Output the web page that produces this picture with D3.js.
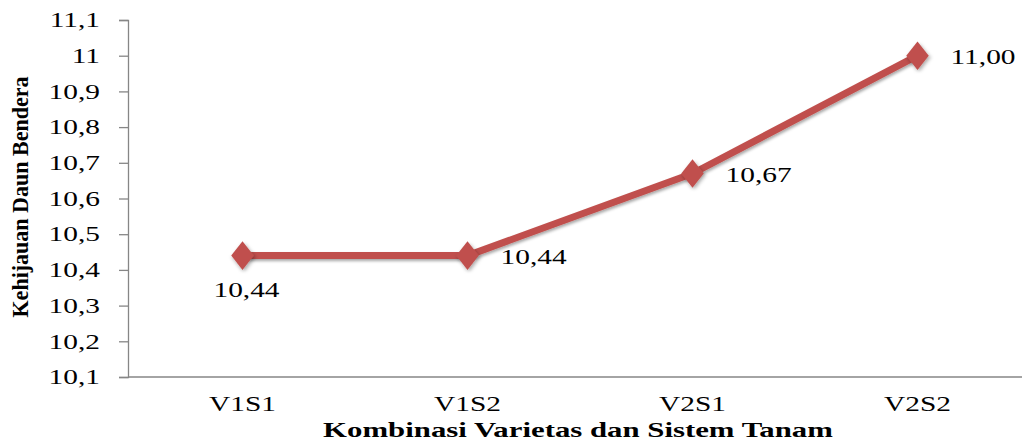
<!DOCTYPE html>
<html><head><meta charset="utf-8">
<script src="https://cdn.jsdelivr.net/npm/d3@7"></script>
<style>body{margin:0;background:#fff}svg{display:block}</style>
</head><body>
<svg id="c" width="1022" height="443"></svg>
<script>
const categories = ["V1S1","V1S2","V2S1","V2S2"];
const values = [10.44, 10.44, 10.67, 11.00];
const valueLabels = ["10,44","10,44","10,67","11,00"];
const yTicks = [10.1,10.2,10.3,10.4,10.5,10.6,10.7,10.8,10.9,11.0,11.1];
const yTickLabels = ["10,1","10,2","10,3","10,4","10,5","10,6","10,7","10,8","10,9","11","11,1"];

const svg = d3.select("#c");
const serif = "'Liberation Serif','Times New Roman',serif";
const SX = 1.4;
const x = d3.scaleBand().domain(categories).range([130,1030]);
const y = d3.scaleLinear().domain([10.1,11.1]).range([377,20]);

function stretch(sel){
  sel.each(function(){
    const t = d3.select(this);
    const tx = +t.attr("x")||0, ty = +t.attr("y")||0;
    t.attr("x",0).attr("y",0).attr("transform",`translate(${tx},${ty}) scale(${SX},1)`);
  });
}

const defs = svg.append("defs");
const f = defs.append("filter").attr("id","sh").attr("x","-20%").attr("y","-20%").attr("width","140%").attr("height","160%");
f.append("feDropShadow").attr("dx",1).attr("dy",2).attr("stdDeviation",1.5).attr("flood-color","#000").attr("flood-opacity",0.35);

// y axis
const ya = svg.append("g").attr("transform","translate(128,0)")
  .call(d3.axisLeft(y).tickValues(yTicks).tickSize(9).tickPadding(19).tickFormat((d,i)=>yTickLabels[i]));
ya.select(".domain").attr("stroke","#868686").attr("stroke-width",1.3);
ya.selectAll(".tick line").attr("stroke","#868686").attr("stroke-width",1.3);
ya.selectAll(".tick text").attr("font-family",serif).attr("font-size",21).attr("fill","#000").call(stretch);

// x axis
const xa = svg.append("g").attr("transform","translate(0,377)")
  .call(d3.axisBottom(x).tickSize(0).tickPadding(19));
xa.select(".domain").attr("stroke","#868686").attr("stroke-width",1.3).attr("d","M128,0H1022");
xa.selectAll(".tick text").attr("font-family",serif).attr("font-size",21).attr("fill","#000").call(stretch);

const cx = d => x(d) + x.bandwidth()/2;
const line = d3.line().x((d,i)=>cx(categories[i])).y(d=>y(d));
svg.append("path").datum(values).attr("d",line).attr("fill","none")
  .attr("stroke","#C0504D").attr("stroke-width",7).attr("stroke-linejoin","round").attr("filter","url(#sh)");

const sym = d3.symbol().type(d3.symbolDiamond).size(260);
svg.selectAll(".m").data(values).enter().append("path")
  .attr("d",sym)
  .attr("transform",(d,i)=>`translate(${cx(categories[i])},${y(d)}) scale(1.3,0.95)`)
  .attr("fill","#C0504D").attr("filter","url(#sh)");

svg.selectAll(".lbl").data(values).enter().append("text")
  .attr("x",(d,i)=> i===0 ? cx(categories[i]) + 4 : cx(categories[i]) + 33)
  .attr("y",(d,i)=> i===0 ? y(d)+41 : y(d)+8)
  .attr("text-anchor",(d,i)=> i===0 ? "middle" : "start")
  .attr("font-family",serif).attr("font-size",21).attr("fill","#000")
  .text((d,i)=>valueLabels[i]).call(stretch);

svg.append("text").attr("transform","translate(28,197) rotate(-90)")
  .attr("text-anchor","middle").attr("font-family",serif).attr("font-weight","bold")
  .attr("font-size",24).attr("textLength",241).attr("lengthAdjust","spacingAndGlyphs")
  .text("Kehijauan Daun Bendera");

svg.append("text").attr("x",578).attr("y",437).attr("text-anchor","middle")
  .attr("font-family",serif).attr("font-weight","bold").attr("font-size",22)
  .text("Kombinasi Varietas dan Sistem Tanam").call(stretch);
</script>
</body></html>
